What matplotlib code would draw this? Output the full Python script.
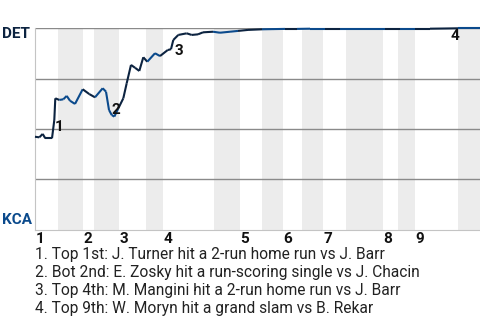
import matplotlib.pyplot as plt
from matplotlib.collections import LineCollection
import numpy as np

plt.rcParams['font.family'] = ['Roboto', 'DejaVu Sans']

# game progress (plate-appearance scale) and DET win probability
progress = [0, 4.3, 7.7, 10.3, 17, 19.3, 20.3, 24.3, 28.3, 31.7, 35, 40, 47.7,
            54.3, 60, 67.7, 71, 74, 76.7, 79.3, 83.3, 88.3, 91.7, 96, 100, 104.3,
            108.3, 112.3, 120, 125, 132.7, 136, 138.3, 143.3, 151.7, 156.7, 163,
            168, 178, 185, 195, 203, 213, 227, 238, 250, 262, 275, 290, 305, 320,
            335, 350, 365, 380, 395, 410, 423, 445]
win_prob = [0.461, 0.458, 0.475, 0.453, 0.453, 0.544, 0.652, 0.644, 0.647, 0.664,
            0.640, 0.624, 0.697, 0.673, 0.657, 0.702, 0.685, 0.594, 0.569, 0.561,
            0.602, 0.652, 0.727, 0.818, 0.804, 0.788, 0.856, 0.834, 0.876, 0.862,
            0.892, 0.896, 0.942, 0.967, 0.975, 0.967, 0.970, 0.980, 0.983, 0.978,
            0.983, 0.987, 0.992, 0.995, 0.996, 0.997, 0.997, 0.998, 0.998, 0.998,
            0.998, 0.998, 0.998, 0.998, 0.998, 0.998, 0.999, 1.0, 1.0]

# half-inning boundaries (top 1st starts at 0)
half_innings = [0, 23, 48, 59, 84, 111, 128, 179, 205, 227, 248, 267, 288, 311,
                348, 363, 380, 423, 445]
inning_labels = ['1', '2', '3', '4', '5', '6', '7', '8', '9']

events = ['1. Top 1st: J. Turner hit a 2-run home run vs J. Barr',
          '2. Bot 2nd: E. Zosky hit a run-scoring single vs J. Chacin',
          '3. Top 4th: M. Mangini hit a 2-run home run vs J. Barr',
          '4. Top 9th: W. Moryn hit a grand slam vs B. Rekar']
event_marks = [(24.5, 0.508, '1'), (80.5, 0.594, '2'), (144, 0.885, '3'), (420, 0.963, '4')]

DET_NAVY = '#0c2340'
KC_BLUE = '#0b4a8c'

fig = plt.figure(figsize=(4.8, 3.2), dpi=100)
ax = fig.add_axes([35 / 480, 90.5 / 320, 445 / 480, 201.2 / 320])

# shaded bottom halves
for i in range(1, len(half_innings) - 1, 2):
    ax.axvspan(half_innings[i], half_innings[i + 1], color='#ececec', lw=0, zorder=0)

for y in [0.25, 0.5, 0.75, 1.0]:
    ax.axhline(y, color='#8a8a8a', lw=1.0, zorder=1)

# line coloured by which team is batting
pts = np.column_stack([progress, win_prob])
segs = np.stack([pts[:-1], pts[1:]], axis=1)
colors = []
for a, b in zip(progress[:-1], progress[1:]):
    mid = (a + b) / 2
    idx = np.searchsorted(half_innings, mid) - 1
    colors.append(KC_BLUE if idx % 2 == 1 else DET_NAVY)
lc = LineCollection(segs, colors=colors, linewidths=1.5, zorder=3, clip_on=False)
ax.add_collection(lc)

for x, y, s in event_marks:
    ax.text(x, y, s, fontsize=11, fontweight='bold', color='#111111',
            ha='center', va='center', zorder=4)

ax.set_xlim(half_innings[0], half_innings[-1])
ax.set_ylim(0, 1)
ax.set_xticks([])
ax.set_yticks([])
for side in ['top', 'right']:
    ax.spines[side].set_visible(False)
ax.spines['left'].set_color('#c4c4c4')
ax.spines['bottom'].set_color('#c4c4c4')

trans = ax.get_xaxis_transform()
for start, lab in zip(half_innings[0::2], inning_labels):
    ax.text(start + 0.5, -0.045, lab, transform=trans, fontsize=11,
            fontweight='bold', color='#111111', ha='left', va='center')

fig.text(2 / 480, 1 - 34 / 320, 'DET', fontsize=11, fontweight='bold',
         color=DET_NAVY, ha='left', va='center')
fig.text(2 / 480, 1 - 220 / 320, 'KCA', fontsize=11, fontweight='bold',
         color=KC_BLUE, ha='left', va='center')

for i, line in enumerate(events):
    fig.text(35 / 480, 1 - (254 + 18 * i) / 320, line, fontsize=11.2,
             color='#222222', ha='left', va='center')

fig.savefig('out.png', dpi=100)
